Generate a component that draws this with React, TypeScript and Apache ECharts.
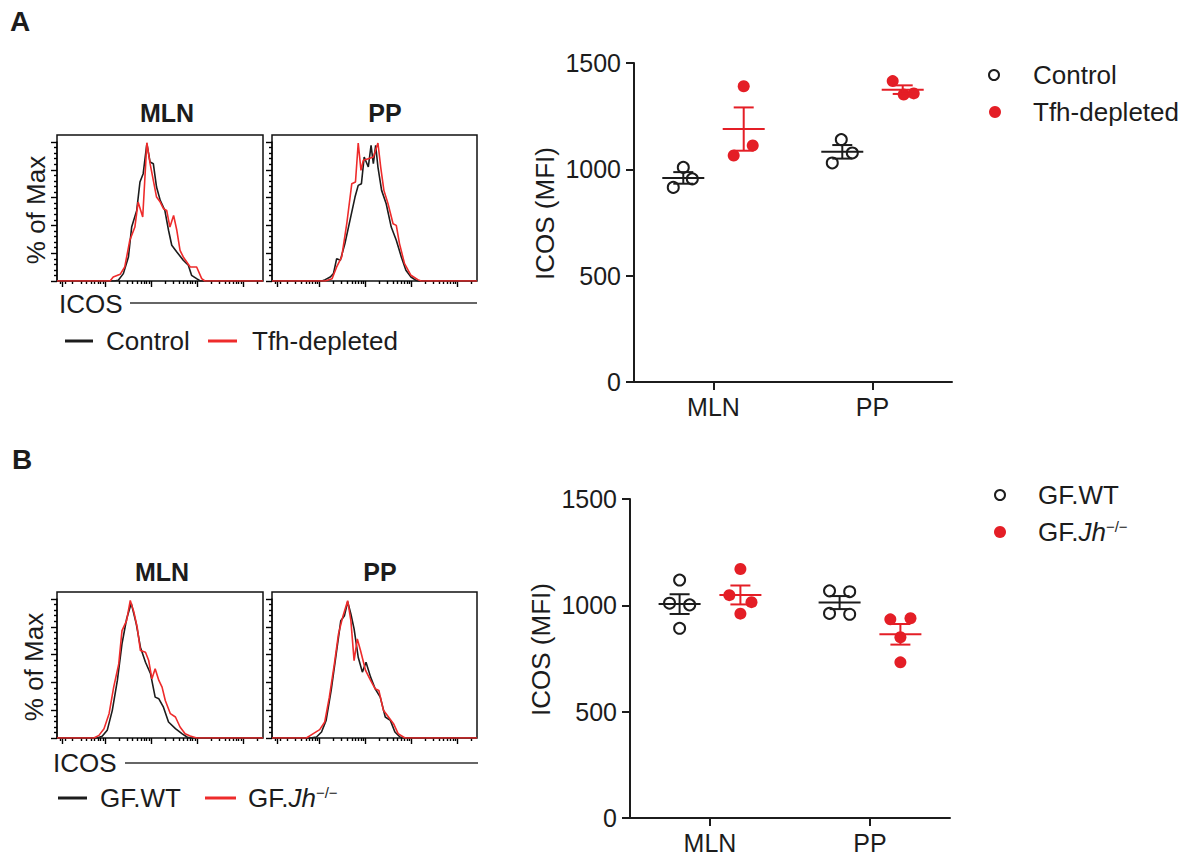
import React, { useEffect, useRef } from 'react';
import * as echarts from 'echarts';

const FONT = '"Liberation Sans", Arial, Helvetica, sans-serif';
const BLACK = '#1c1c1c';
const RED = '#e41e26';
const HIST_RED = '#ee2b2b';

// ---- Histograms: [log10 ICOS, % of Max] ----
const A_MLN_CONTROL = [[0.96,0],[2.20,0],[2.29,0.5],[2.40,5.3],[2.51,17.3],[2.58,38.8],[2.69,50.8],[2.76,71.2],[2.83,77.2],[2.91,98.8],[2.98,85.6],[3.05,84.4],[3.12,67.6],[3.20,58.0],[3.30,50.8],[3.38,36.5],[3.45,25.7],[3.56,20.9],[3.70,14.9],[3.81,11.3],[3.88,4.1],[3.99,1.7],[4.07,0],[5.43,0]];
const A_MLN_TFH = [[0.96,0],[2.11,0],[2.18,2.9],[2.33,4.8],[2.43,10.1],[2.54,29.3],[2.65,38.8],[2.72,56.8],[2.82,46.0],[2.91,99.5],[2.98,84.4],[3.05,72.4],[3.12,60.4],[3.20,56.8],[3.27,52.0],[3.34,50.8],[3.41,38.8],[3.49,47.2],[3.56,36.5],[3.63,22.1],[3.70,17.3],[3.85,10.1],[3.99,10.1],[4.10,1.7],[4.17,0],[5.43,0]];
const A_PP_CONTROL = [[0.96,0],[2.05,0],[2.12,1.0],[2.23,2.9],[2.30,5.3],[2.37,16.1],[2.45,14.9],[2.55,26.9],[2.66,43.6],[2.77,60.4],[2.84,68.8],[2.91,70.0],[2.97,89.2],[3.06,82.0],[3.12,97.6],[3.17,84.4],[3.22,97.6],[3.27,82.0],[3.35,65.2],[3.45,55.6],[3.56,38.8],[3.67,29.3],[3.78,17.3],[3.88,7.7],[3.99,2.9],[4.10,0.5],[4.14,0],[5.43,0]];
const A_PP_TFH = [[0.96,0],[2.12,0],[2.27,1.7],[2.37,10.1],[2.48,17.3],[2.59,41.2],[2.70,70.0],[2.78,71.2],[2.84,99.3],[2.90,79.6],[2.95,86.8],[3.06,88.0],[3.17,89.2],[3.27,99.3],[3.33,82.0],[3.40,65.2],[3.49,55.6],[3.60,41.2],[3.67,40.0],[3.74,26.9],[3.85,12.5],[3.99,4.1],[4.14,1.0],[4.21,0],[5.43,0]];
const B_MLN_WT = [[0.96,0],[1.83,0],[1.94,1.2],[2.05,5.5],[2.16,19.9],[2.27,41.4],[2.37,67.7],[2.47,85.6],[2.57,97.0],[2.61,91.6],[2.68,82.1],[2.77,65.3],[2.88,54.5],[2.99,46.2],[3.09,29.4],[3.17,28.2],[3.27,22.2],[3.38,11.5],[3.53,6.7],[3.67,3.1],[3.78,0.7],[3.85,0],[5.43,0]];
const B_MLN_JH = [[0.96,0],[1.76,0],[1.87,1.9],[1.98,6.7],[2.09,17.5],[2.19,36.6],[2.30,53.3],[2.37,77.3],[2.47,84.4],[2.55,99.0],[2.63,90.4],[2.70,79.7],[2.77,62.9],[2.88,61.7],[2.95,55.7],[3.02,42.6],[3.09,49.8],[3.17,41.4],[3.24,36.6],[3.31,27.0],[3.42,17.5],[3.53,15.1],[3.63,7.9],[3.74,3.1],[3.85,1.4],[3.99,0],[5.43,0]];
const B_PP_WT = [[0.96,0],[1.79,0],[1.93,0.7],[2.04,4.3],[2.14,12.7],[2.25,34.2],[2.36,60.5],[2.46,84.4],[2.54,88.0],[2.61,98.0],[2.68,89.2],[2.75,78.5],[2.84,58.1],[2.93,47.4],[3.01,54.5],[3.11,43.8],[3.21,35.4],[3.32,29.4],[3.43,15.1],[3.54,12.7],[3.64,4.3],[3.75,0.7],[3.82,0],[5.43,0]];
const B_PP_JH = [[0.96,0],[1.71,0],[1.86,3.1],[2.00,6.0],[2.11,11.5],[2.21,29.4],[2.32,53.3],[2.41,74.9],[2.50,86.8],[2.61,98.8],[2.68,84.4],[2.75,55.7],[2.82,71.3],[2.89,62.9],[3.00,48.6],[3.11,41.4],[3.21,35.4],[3.29,34.2],[3.39,19.9],[3.50,15.1],[3.61,10.3],[3.71,3.1],[3.86,0],[5.43,0]];

const HIST_X_MIN = 0.96;
const HIST_X_MAX = 5.43;
const HIST_X_MAJOR = [1.08, 2, 3, 4, 5];

// ---- Dot plots: ICOS (MFI) ----
const CATEGORIES = ['MLN', 'PP'];
const A_GROUPS = ['Control', 'Tfh-depleted'];
const B_GROUPS = ['GF.WT', 'GF.Jh−/−'];
const A_CONTROL_MLN = [1009, 915, 955];
const A_CONTROL_PP = [1140, 1030, 1077];
const A_TFH_MLN = [1391, 1065, 1112];
const A_TFH_PP = [1415, 1352, 1357];
const B_WT_MLN = [1119, 1010, 1002, 892];
const B_WT_PP = [1068, 1064, 962, 958];
const B_JH_MLN = [1171, 1048, 1015, 961];
const B_JH_PP = [934, 939, 850, 732];
// horizontal scatter of the dots within a group (in dot widths)
const A_CONTROL_MLN_JIT = [0, -1, 0.9];
const A_CONTROL_PP_JIT = [-0.1, -1, 1];
const A_TFH_MLN_JIT = [0, -1, 0.9];
const A_TFH_PP_JIT = [-1, 0.1, 1.1];
const B_WT_MLN_JIT = [0, -1, 1, 0];
const B_WT_PP_JIT = [-1, 1, -1, 1];
const B_JH_MLN_JIT = [0, -1.1, 1.1, 0];
const B_JH_PP_JIT = [-1, 1, 0, 0];

const GROUP_OFFSET = 0.19;
const JIT = 0.063;

function minorX(): number[] {
  const out: number[] = [1.02, 1.13];
  for (let d = 1; d <= 4; d++) for (let k = 2; k <= 9; k++) out.push(d + Math.log10(k));
  out.push(5 + Math.log10(2));
  return out;
}

function meanSem(vals: number[]) {
  const n = vals.length;
  const m = vals.reduce((a, b) => a + b, 0) / n;
  const sd = Math.sqrt(vals.reduce((a, b) => a + (b - m) ** 2, 0) / (n - 1));
  return [m, sd / Math.sqrt(n)];
}

function dots(lists: number[][], jits: number[][], side: number) {
  const out: number[][] = [];
  lists.forEach((vals, ci) => {
    vals.forEach((v, i) => out.push([ci + side * GROUP_OFFSET + jits[ci][i] * JIT, v]));
  });
  return out;
}
function stats(lists: number[][], side: number) {
  return lists.map((vals, ci) => {
    const [m, s] = meanSem(vals);
    return [ci + side * GROUP_OFFSET, m, s];
  });
}

function errRender(color: string) {
  return (params: any, api: any) => {
    const x = api.value(0), m = api.value(1), s = api.value(2);
    const c = api.coord([x, m]);
    const t = api.coord([x, m + s]);
    const b = api.coord([x, m - s]);
    const st = { stroke: color, lineWidth: 2 };
    return {
      type: 'group',
      children: [
        { type: 'line', shape: { x1: c[0] - 21, y1: c[1], x2: c[0] + 21, y2: c[1] }, style: st },
        { type: 'line', shape: { x1: t[0], y1: t[1], x2: b[0], y2: b[1] }, style: st },
        { type: 'line', shape: { x1: t[0] - 10, y1: t[1], x2: t[0] + 10, y2: t[1] }, style: st },
        { type: 'line', shape: { x1: b[0] - 10, y1: b[1], x2: b[0] + 10, y2: b[1] }, style: st },
      ],
    };
  };
}

export default function App() {
  const ref = useRef<HTMLDivElement>(null);
  useEffect(() => {
    if (!ref.current) return;
    const chart = echarts.init(ref.current, undefined, { renderer: 'svg' });

    // box rectangles (frame) ; data area starts 7px below the frame top (100 % line)
    const histRects = [
      { left: 57, top: 135, width: 206, height: 146 },
      { left: 272, top: 135, width: 205, height: 146 },
      { left: 57, top: 592, width: 206, height: 146 },
      { left: 272, top: 592, width: 205, height: 146 },
    ];
    const grids: any[] = [];
    histRects.forEach((r) => {
      grids.push({ ...r, show: true, borderColor: '#111', borderWidth: 1.5, backgroundColor: 'transparent', outerBoundsMode: 'none' });
      grids.push({ left: r.left, top: r.top + 7, width: r.width, height: r.height - 7, show: false, outerBoundsMode: 'none' });
    });
    grids.push({ left: 634, top: 63, width: 318, height: 319, outerBoundsMode: 'none' });
    grids.push({ left: 630, top: 499, width: 320, height: 319, outerBoundsMode: 'none' });

    const xAxis: any[] = [];
    const yAxis: any[] = [];
    const MX = minorX();
    const tickStyle = { color: '#000', width: 1.4 };
    const blankLabel = { show: true, formatter: () => '', fontSize: 1, color: 'rgba(0,0,0,0)' };
    for (let p = 0; p < 4; p++) {
      const box = 2 * p, dat = 2 * p + 1;
      // frame grid: minor ICOS ticks
      xAxis.push({
        type: 'value', gridIndex: box, min: HIST_X_MIN, max: HIST_X_MAX, position: 'bottom',
        axisLine: { show: false, onZero: false }, splitLine: { show: false }, axisLabel: blankLabel,
        axisTick: { show: true, customValues: MX, length: 3, lineStyle: tickStyle },
      });
      yAxis.push({
        type: 'value', gridIndex: box, min: 0, max: 1, show: false,
      });
      // data grid
      xAxis.push({
        type: 'value', gridIndex: dat, min: HIST_X_MIN, max: HIST_X_MAX, position: 'bottom',
        axisLine: { show: false, onZero: false }, splitLine: { show: false }, axisLabel: blankLabel,
        axisTick: { show: true, customValues: HIST_X_MAJOR, length: 6, lineStyle: tickStyle },
      });
      yAxis.push({
        type: 'value', gridIndex: dat, min: 0, max: 100, interval: 20, position: 'left',
        axisLine: { show: true, onZero: false, lineStyle: { color: '#111', width: 1.5 } },
        splitLine: { show: false }, axisLabel: blankLabel,
        axisTick: { show: true, length: 6, lineStyle: tickStyle },
        minorTick: { show: true, splitNumber: 5, length: 3, lineStyle: tickStyle },
        minorSplitLine: { show: false },
      });
    }
    const catAxis = (gi: number) => ({
      type: 'category', gridIndex: gi, data: CATEGORIES, position: 'bottom', boundaryGap: true,
      axisLine: { show: true, onZero: false, lineStyle: { color: BLACK, width: 2 } },
      axisTick: { show: true, alignWithLabel: true, length: 8, lineStyle: { color: BLACK, width: 2 } },
      axisLabel: { fontSize: 25, fontFamily: FONT, color: BLACK, margin: 12 },
      splitLine: { show: false },
    });
    const valX = (gi: number) => ({ type: 'value', gridIndex: gi, min: -0.5, max: 1.5, show: false, position: 'top' });
    xAxis.push(catAxis(8), valX(8), catAxis(9), valX(9));
    const mfiAxis = (gi: number) => ({
      type: 'value', gridIndex: gi, min: 0, max: 1500, interval: 500,
      name: 'ICOS (MFI)', nameLocation: 'middle', nameGap: 76,
      nameTextStyle: { fontSize: 26, fontFamily: FONT, color: BLACK, padding: [0, 0, 0, 18] },
      axisLine: { show: true, onZero: false, lineStyle: { color: BLACK, width: 2 } },
      axisTick: { show: true, length: 8, lineStyle: { color: BLACK, width: 2 } },
      axisLabel: { fontSize: 25, fontFamily: FONT, color: BLACK, margin: 13, formatter: (v: number) => String(v) },
      splitLine: { show: false },
    });
    yAxis.push(mfiAxis(8), mfiAxis(9));

    const hist = (name: string, data: number[][], p: number, color: string) => ({
      type: 'line', name, data, xAxisIndex: 2 * p + 1, yAxisIndex: 2 * p + 1, showSymbol: false, symbol: 'none',
      lineStyle: { color, width: 1.6 }, itemStyle: { color }, z: color === BLACK ? 2 : 3,
    });

    const openDot = { color: 'rgba(0,0,0,0)', borderColor: BLACK, borderWidth: 2, opacity: 1 };
    const redDot = { color: RED, opacity: 1 };
    const series: any[] = [
      hist('Control', A_MLN_CONTROL, 0, BLACK),
      hist('Tfh-depleted', A_MLN_TFH, 0, HIST_RED),
      hist('Control', A_PP_CONTROL, 1, BLACK),
      hist('Tfh-depleted', A_PP_TFH, 1, HIST_RED),
      hist('GF.WT', B_MLN_WT, 2, BLACK),
      hist('GF.Jh−/−', B_MLN_JH, 2, HIST_RED),
      hist('GF.WT', B_PP_WT, 3, BLACK),
      hist('GF.Jh−/−', B_PP_JH, 3, HIST_RED),
      {
        type: 'scatter', name: A_GROUPS[0], xAxisIndex: 9, yAxisIndex: 8, symbol: 'circle', symbolSize: 11,
        itemStyle: openDot, data: dots([A_CONTROL_MLN, A_CONTROL_PP], [A_CONTROL_MLN_JIT, A_CONTROL_PP_JIT], -1), z: 3,
      },
      {
        type: 'scatter', name: A_GROUPS[1], xAxisIndex: 9, yAxisIndex: 8, symbol: 'circle', symbolSize: 12,
        itemStyle: redDot, data: dots([A_TFH_MLN, A_TFH_PP], [A_TFH_MLN_JIT, A_TFH_PP_JIT], 1), z: 3,
      },
      {
        type: 'custom', name: A_GROUPS[0] + ' mean ± SEM', xAxisIndex: 9, yAxisIndex: 8, renderItem: errRender(BLACK),
        data: stats([A_CONTROL_MLN, A_CONTROL_PP], -1), encode: { x: 0, y: 1 }, z: 4,
      },
      {
        type: 'custom', name: A_GROUPS[1] + ' mean ± SEM', xAxisIndex: 9, yAxisIndex: 8, renderItem: errRender(RED),
        data: stats([A_TFH_MLN, A_TFH_PP], 1), encode: { x: 0, y: 1 }, z: 4,
      },
      {
        type: 'scatter', name: B_GROUPS[0], xAxisIndex: 11, yAxisIndex: 9, symbol: 'circle', symbolSize: 11,
        itemStyle: openDot, data: dots([B_WT_MLN, B_WT_PP], [B_WT_MLN_JIT, B_WT_PP_JIT], -1), z: 3,
      },
      {
        type: 'scatter', name: B_GROUPS[1], xAxisIndex: 11, yAxisIndex: 9, symbol: 'circle', symbolSize: 12,
        itemStyle: redDot, data: dots([B_JH_MLN, B_JH_PP], [B_JH_MLN_JIT, B_JH_PP_JIT], 1), z: 3,
      },
      {
        type: 'custom', name: B_GROUPS[0] + ' mean ± SEM', xAxisIndex: 11, yAxisIndex: 9, renderItem: errRender(BLACK),
        data: stats([B_WT_MLN, B_WT_PP], -1), encode: { x: 0, y: 1 }, z: 4,
      },
      {
        type: 'custom', name: B_GROUPS[1] + ' mean ± SEM', xAxisIndex: 11, yAxisIndex: 9, renderItem: errRender(RED),
        data: stats([B_JH_MLN, B_JH_PP], 1), encode: { x: 0, y: 1 }, z: 4,
      },
    ];

    const txt = (text: string, x: number, y: number, o: any = {}) => ({
      type: 'text', x, y, rotation: o.rotation || 0,
      style: {
        text, fill: BLACK, font: `${o.bold ? 'bold ' : ''}${o.size || 26}px ${FONT}`,
        textAlign: o.align || 'left', textVerticalAlign: 'middle', rich: o.rich,
      },
    });
    const seg = (x1: number, x2: number, y: number, color: string, w: number) => ({
      type: 'line', shape: { x1, y1: y, x2, y2: y }, style: { stroke: color, lineWidth: w },
    });
    const jhRich = {
      i: { fontStyle: 'italic', fontSize: 26, fontFamily: FONT, fill: BLACK },
      s: { fontSize: 15, fontFamily: FONT, fill: BLACK, verticalAlign: 'top', padding: [0, 0, 10, 0] },
    };
    const JH_TEXT = 'GF.{i|Jh}{s|−/−}';

    const graphic: any[] = [
      txt('A', 10, 21, { bold: true, size: 28 }),
      txt('B', 12, 459, { bold: true, size: 28 }),
      txt('MLN', 167, 113, { bold: true, size: 25, align: 'center' }),
      txt('PP', 385, 113, { bold: true, size: 25, align: 'center' }),
      txt('MLN', 162, 572, { bold: true, size: 25, align: 'center' }),
      txt('PP', 380, 572, { bold: true, size: 25, align: 'center' }),
      txt('% of Max', 36, 210, { align: 'center', rotation: Math.PI / 2 }),
      txt('% of Max', 34, 667, { align: 'center', rotation: Math.PI / 2 }),
      txt('ICOS', 59, 304),
      seg(130, 477, 303, '#333', 1.5),
      txt('ICOS', 53, 763),
      seg(125, 478, 763, '#333', 1.5),
      seg(65, 93, 341, BLACK, 3),
      txt('Control', 106, 341),
      seg(208, 237, 341, HIST_RED, 3),
      txt('Tfh-depleted', 252, 341),
      seg(58, 87, 798, BLACK, 3),
      txt('GF.WT', 100, 798),
      seg(205, 236, 798, HIST_RED, 3),
      txt(JH_TEXT, 248, 798, { rich: jhRich }),
      { type: 'circle', shape: { cx: 994, cy: 75, r: 5 }, style: { fill: 'none', stroke: BLACK, lineWidth: 2 } },
      txt('Control', 1033, 75),
      { type: 'circle', shape: { cx: 995, cy: 112, r: 6 }, style: { fill: RED } },
      txt('Tfh-depleted', 1033, 112),
      { type: 'circle', shape: { cx: 1000, cy: 495, r: 5 }, style: { fill: 'none', stroke: BLACK, lineWidth: 2 } },
      txt('GF.WT', 1038, 495),
      { type: 'circle', shape: { cx: 1000, cy: 532, r: 6 }, style: { fill: RED } },
      txt(JH_TEXT, 1038, 532, { rich: jhRich }),
    ];

    chart.setOption({
      animation: false,
      backgroundColor: '#fff',
      textStyle: { fontFamily: FONT },
      grid: grids,
      xAxis,
      yAxis,
      series,
      graphic,
    });
    return () => chart.dispose();
  }, []);
  return <div ref={ref} style={{ position: 'absolute', left: 0, top: 0, width: 1193, height: 857 }} />;
}
